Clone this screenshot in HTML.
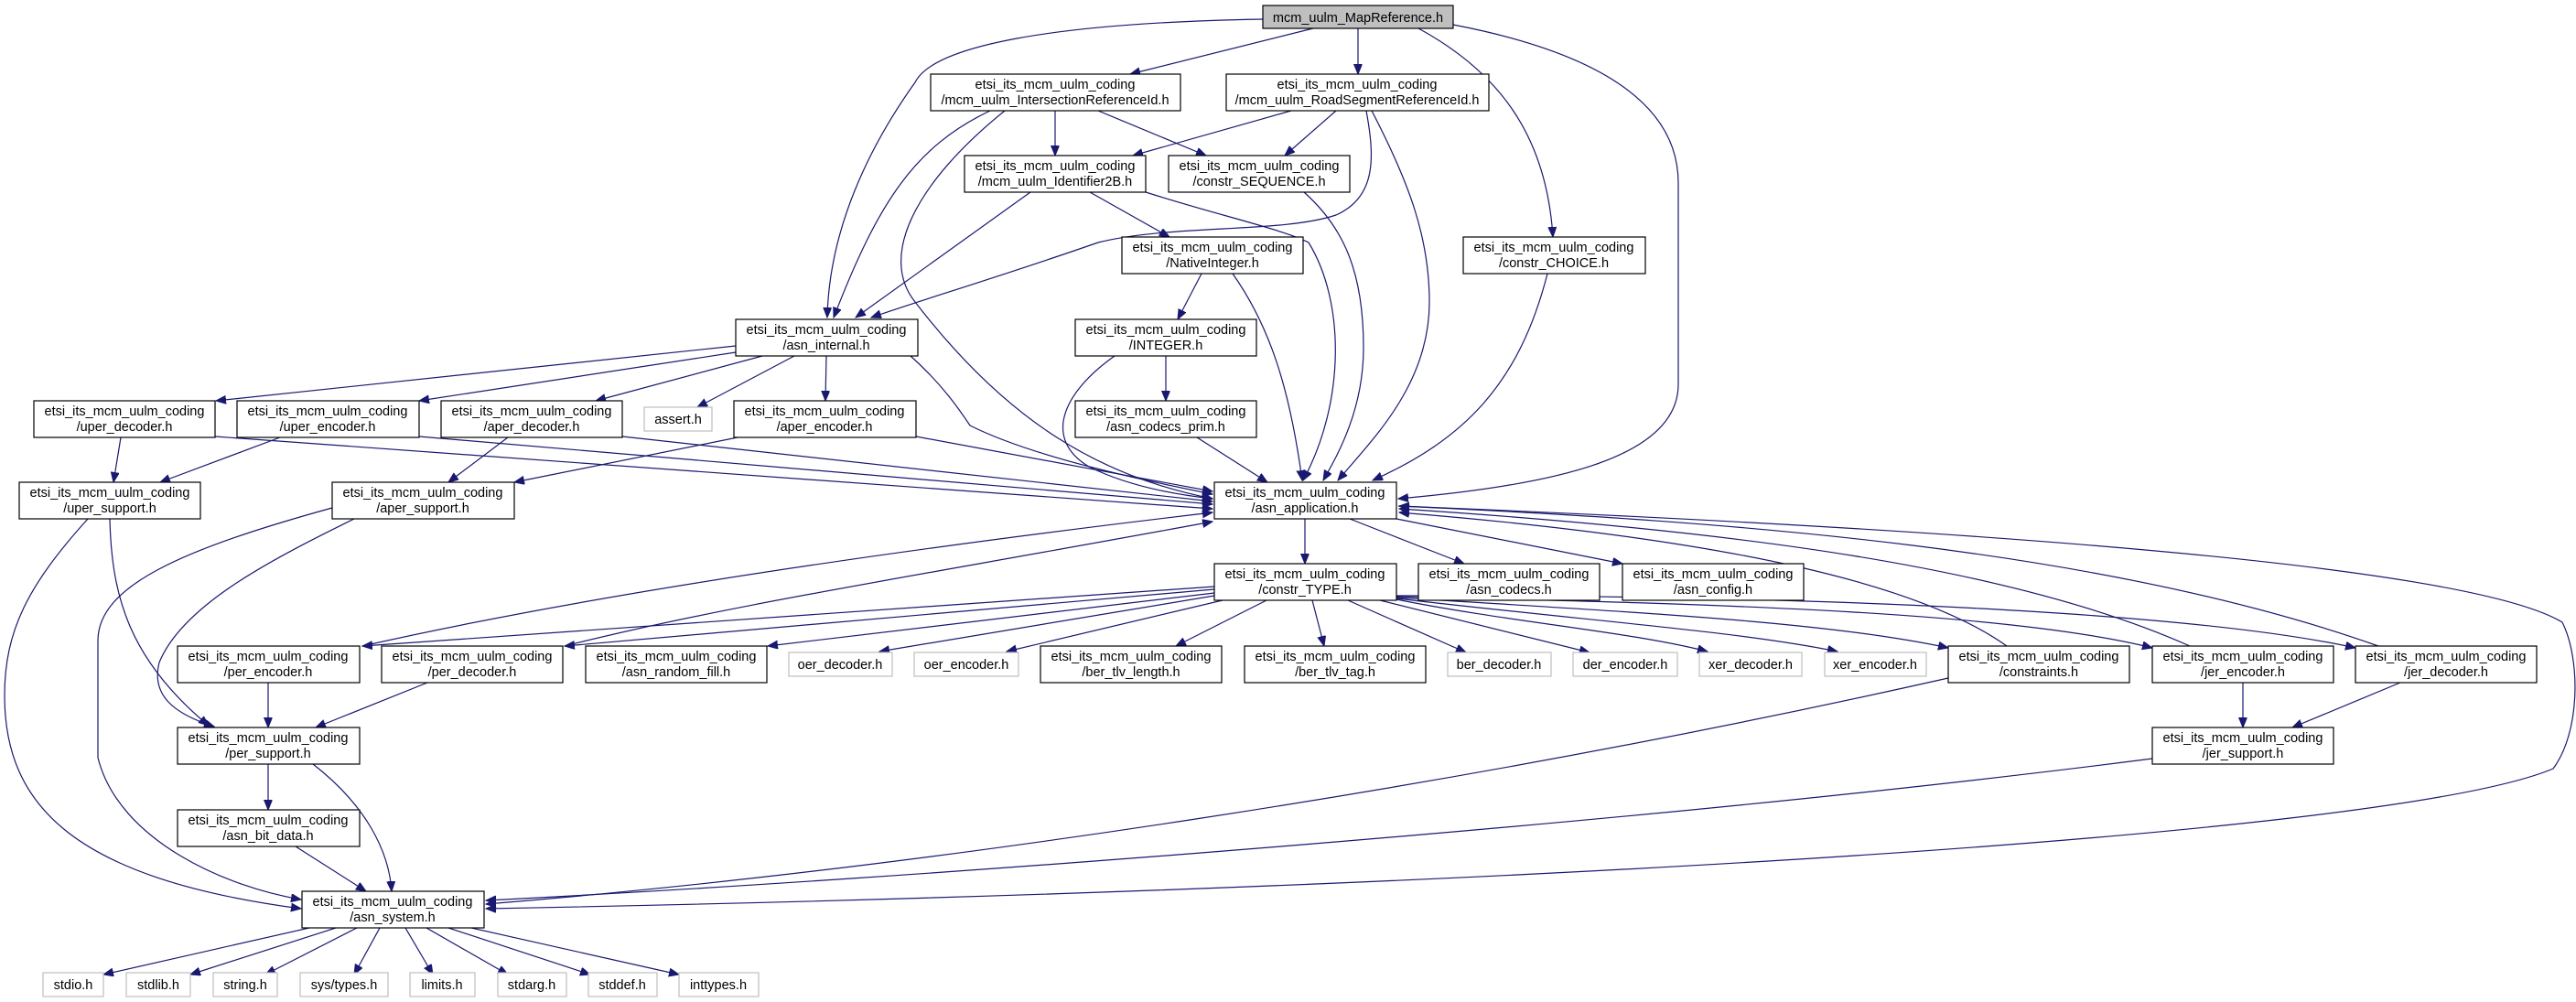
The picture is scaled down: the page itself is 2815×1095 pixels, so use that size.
<!DOCTYPE html>
<html><head><meta charset="utf-8"><style>
html,body{margin:0;padding:0;background:#fff;}
svg{display:block;}
text{font-family:"Liberation Sans",sans-serif;font-size:14.5px;fill:#000;text-anchor:middle;}
.b{fill:#fff;stroke:#000;stroke-width:1.2;}
.g{fill:#fff;stroke:#bfbfbf;stroke-width:1.2;}
.e{fill:none;stroke:#191970;stroke-width:1.2;marker-end:url(#a);}
</style></head><body>
<svg width="2815" height="1095" viewBox="0 0 2815 1095" xmlns="http://www.w3.org/2000/svg">
<defs><marker id="a" markerUnits="userSpaceOnUse" markerWidth="12" markerHeight="10" refX="11" refY="4.5" orient="auto"><path d="M0,0 L11,4.5 L0,9 z" fill="#191970" stroke="#191970"/></marker></defs>

<path class="e" d="M1380,21 C1150,25 1020,50 1000,90 C950,160 906,250 904,347"/>
<path class="e" d="M1435,31 L1235,81"/>
<path class="e" d="M1484,31 L1484,81"/>
<path class="e" d="M1550,31 C1640,80 1690,150 1697,259"/>
<path class="e" d="M1588,27 C1760,60 1834,120 1834,200 L1834,420 C1834,500 1700,530 1528,545"/>
<path class="e" d="M1153,121 L1153,170"/>
<path class="e" d="M1200,121 L1318,170"/>
<path class="e" d="M1082,121 C1000,160 960,220 911,347"/>
<path class="e" d="M1098,121 C1000,200 960,280 1000,330 C1100,460 1200,520 1325,545"/>
<path class="e" d="M1411,121 L1238,170"/>
<path class="e" d="M1460,121 L1404,170"/>
<path class="e" d="M1493,121 C1502,170 1505,215 1460,235 C1400,255 1280,245 1200,265 C1100,300 1000,330 952,347"/>
<path class="e" d="M1499,121 C1540,200 1562,260 1562,330 C1562,420 1500,480 1462,525"/>
<path class="e" d="M1126,210 L935,347"/>
<path class="e" d="M1191,210 L1278,259"/>
<path class="e" d="M1252,210 C1330,235 1400,250 1430,265 C1470,330 1470,440 1424,525"/>
<path class="e" d="M1425,210 C1470,250 1490,300 1490,380 C1490,450 1460,500 1446,525"/>
<path class="e" d="M1313,299 L1287,349"/>
<path class="e" d="M1347,299 C1390,360 1410,430 1423,525"/>
<path class="e" d="M1691,299 C1660,420 1600,480 1500,525"/>
<path class="e" d="M1274,389 L1274,438"/>
<path class="e" d="M1218,389 C1160,430 1140,480 1190,510 C1230,530 1280,540 1325,545"/>
<path class="e" d="M1308,478 L1385,527"/>
<path class="e" d="M804,378 L236,438"/>
<path class="e" d="M804,385 L458,438"/>
<path class="e" d="M833,389 L651,438"/>
<path class="e" d="M868,389 L762,445"/>
<path class="e" d="M903,389 L902,438"/>
<path class="e" d="M995,389 C1030,420 1050,450 1060,465 C1130,500 1250,525 1325,540"/>
<path class="e" d="M235,477 L1325,556"/>
<path class="e" d="M458,477 L1325,551"/>
<path class="e" d="M680,477 L1325,548"/>
<path class="e" d="M1001,477 L1325,537"/>
<path class="e" d="M132,478 L124,527"/>
<path class="e" d="M306,478 L175,527"/>
<path class="e" d="M555,478 L490,527"/>
<path class="e" d="M806,478 L562,527"/>
<path class="e" d="M120,567 C122,650 140,720 228,793"/>
<path class="e" d="M96,567 C30,640 5,690 5,760 C5,880 80,960 329,993"/>
<path class="e" d="M387,567 C300,610 200,660 174,724 C165,760 190,780 234,794"/>
<path class="e" d="M363,555 C200,600 107,640 107,700 L107,828 C130,920 250,970 329,983"/>
<path class="e" d="M293,746 L293,795"/>
<path class="e" d="M467,746 L345,795"/>
<path class="e" d="M293,835 L293,885"/>
<path class="e" d="M342,835 C400,880 425,930 428,974"/>
<path class="e" d="M323,925 L400,974"/>
<path class="e" d="M338,1014 L113,1065"/>
<path class="e" d="M367,1014 L208,1065"/>
<path class="e" d="M390,1014 L290,1065"/>
<path class="e" d="M415,1014 L387,1065"/>
<path class="e" d="M443,1014 L473,1065"/>
<path class="e" d="M466,1014 L555,1065"/>
<path class="e" d="M490,1014 L645,1065"/>
<path class="e" d="M515,1014 L742,1065"/>
<path class="e" d="M1426,567 L1426,616"/>
<path class="e" d="M1475,567 L1600,616"/>
<path class="e" d="M1526,567 L1773,616"/>
<path class="e" d="M1528,553 C2200,580 2700,620 2800,680 C2820,720 2820,800 2790,840 C2600,920 1500,975 531,993"/>
<path class="e" d="M396,706 C600,660 900,610 1325,560"/>
<path class="e" d="M617,706 C800,660 1000,630 1325,570"/>
<path class="e" d="M1327,641 L396,706"/>
<path class="e" d="M1327,644 L617,706"/>
<path class="e" d="M1327,648 L839,706"/>
<path class="e" d="M1327,651 L961,712"/>
<path class="e" d="M1336,656 L1100,712"/>
<path class="e" d="M1384,656 L1285,706"/>
<path class="e" d="M1434,656 L1447,706"/>
<path class="e" d="M1473,656 L1602,713"/>
<path class="e" d="M1508,656 L1737,713"/>
<path class="e" d="M1526,655 C1650,680 1780,690 1866,712"/>
<path class="e" d="M1526,654 C1750,680 1900,690 2008,712"/>
<path class="e" d="M1526,653 C1800,670 2000,680 2129,708"/>
<path class="e" d="M1526,652 C1900,660 2200,670 2352,708"/>
<path class="e" d="M1526,651 C2000,650 2400,670 2574,708"/>
<path class="e" d="M2193,706 C2100,640 1900,590 1529,560"/>
<path class="e" d="M2393,706 C2200,620 1900,580 1529,556"/>
<path class="e" d="M2599,706 C2300,600 1900,570 1529,553"/>
<path class="e" d="M2129,741 C1600,860 1000,950 531,988"/>
<path class="e" d="M2451,746 L2451,795"/>
<path class="e" d="M2623,746 L2505,795"/>
<path class="e" d="M2352,829 C1800,900 1000,960 531,984"/>

<rect x="1380" y="6" width="208" height="25" fill="#bfbfbf" stroke="#000" stroke-width="1.2"/><text x="1484" y="24">mcm_uulm_MapReference.h</text>

<rect class="b" x="1017" y="81" width="273" height="40"/><text x="1153" y="97">etsi_its_mcm_uulm_coding</text><text x="1153" y="114">/mcm_uulm_IntersectionReferenceId.h</text>
<rect class="b" x="1340" y="81" width="287" height="40"/><text x="1483" y="97">etsi_its_mcm_uulm_coding</text><text x="1483" y="114">/mcm_uulm_RoadSegmentReferenceId.h</text>
<rect class="b" x="1054" y="170" width="198" height="40"/><text x="1153" y="186">etsi_its_mcm_uulm_coding</text><text x="1153" y="203">/mcm_uulm_Identifier2B.h</text>
<rect class="b" x="1277" y="170" width="198" height="40"/><text x="1376" y="186">etsi_its_mcm_uulm_coding</text><text x="1376" y="203">/constr_SEQUENCE.h</text>
<rect class="b" x="1226" y="259" width="198" height="40"/><text x="1325" y="275">etsi_its_mcm_uulm_coding</text><text x="1325" y="292">/NativeInteger.h</text>
<rect class="b" x="1599" y="259" width="199" height="40"/><text x="1698" y="275">etsi_its_mcm_uulm_coding</text><text x="1698" y="292">/constr_CHOICE.h</text>
<rect class="b" x="804" y="349" width="199" height="40"/><text x="903" y="365">etsi_its_mcm_uulm_coding</text><text x="903" y="382">/asn_internal.h</text>
<rect class="b" x="1175" y="349" width="198" height="40"/><text x="1274" y="365">etsi_its_mcm_uulm_coding</text><text x="1274" y="382">/INTEGER.h</text>
<rect class="b" x="37" y="438" width="198" height="40"/><text x="136" y="454">etsi_its_mcm_uulm_coding</text><text x="136" y="471">/uper_decoder.h</text>
<rect class="b" x="259" y="438" width="199" height="40"/><text x="358" y="454">etsi_its_mcm_uulm_coding</text><text x="358" y="471">/uper_encoder.h</text>
<rect class="b" x="482" y="438" width="198" height="40"/><text x="581" y="454">etsi_its_mcm_uulm_coding</text><text x="581" y="471">/aper_decoder.h</text>
<rect class="g" x="704" y="445" width="74" height="26"/><text x="741" y="463">assert.h</text>
<rect class="b" x="802" y="438" width="199" height="40"/><text x="901" y="454">etsi_its_mcm_uulm_coding</text><text x="901" y="471">/aper_encoder.h</text>
<rect class="b" x="1175" y="438" width="198" height="40"/><text x="1274" y="454">etsi_its_mcm_uulm_coding</text><text x="1274" y="471">/asn_codecs_prim.h</text>
<rect class="b" x="21" y="527" width="198" height="40"/><text x="120" y="543">etsi_its_mcm_uulm_coding</text><text x="120" y="560">/uper_support.h</text>
<rect class="b" x="363" y="527" width="199" height="40"/><text x="462" y="543">etsi_its_mcm_uulm_coding</text><text x="462" y="560">/aper_support.h</text>
<rect class="b" x="1327" y="527" width="199" height="40"/><text x="1426" y="543">etsi_its_mcm_uulm_coding</text><text x="1426" y="560">/asn_application.h</text>
<rect class="b" x="1327" y="616" width="199" height="40"/><text x="1426" y="632">etsi_its_mcm_uulm_coding</text><text x="1426" y="649">/constr_TYPE.h</text>
<rect class="b" x="1550" y="616" width="198" height="40"/><text x="1649" y="632">etsi_its_mcm_uulm_coding</text><text x="1649" y="649">/asn_codecs.h</text>
<rect class="b" x="1773" y="616" width="198" height="40"/><text x="1872" y="632">etsi_its_mcm_uulm_coding</text><text x="1872" y="649">/asn_config.h</text>
<rect class="b" x="194" y="706" width="199" height="40"/><text x="293" y="722">etsi_its_mcm_uulm_coding</text><text x="293" y="739">/per_encoder.h</text>
<rect class="b" x="417" y="706" width="198" height="40"/><text x="516" y="722">etsi_its_mcm_uulm_coding</text><text x="516" y="739">/per_decoder.h</text>
<rect class="b" x="640" y="706" width="198" height="40"/><text x="739" y="722">etsi_its_mcm_uulm_coding</text><text x="739" y="739">/asn_random_fill.h</text>
<rect class="g" x="862" y="713" width="113" height="26"/><text x="918" y="731">oer_decoder.h</text>
<rect class="g" x="999" y="713" width="114" height="26"/><text x="1056" y="731">oer_encoder.h</text>
<rect class="b" x="1137" y="706" width="198" height="40"/><text x="1236" y="722">etsi_its_mcm_uulm_coding</text><text x="1236" y="739">/ber_tlv_length.h</text>
<rect class="b" x="1360" y="706" width="198" height="40"/><text x="1459" y="722">etsi_its_mcm_uulm_coding</text><text x="1459" y="739">/ber_tlv_tag.h</text>
<rect class="g" x="1582" y="713" width="113" height="26"/><text x="1638" y="731">ber_decoder.h</text>
<rect class="g" x="1719" y="713" width="114" height="26"/><text x="1776" y="731">der_encoder.h</text>
<rect class="g" x="1857" y="713" width="112" height="26"/><text x="1913" y="731">xer_decoder.h</text>
<rect class="g" x="1994" y="713" width="111" height="26"/><text x="2049" y="731">xer_encoder.h</text>
<rect class="b" x="2129" y="706" width="198" height="40"/><text x="2228" y="722">etsi_its_mcm_uulm_coding</text><text x="2228" y="739">/constraints.h</text>
<rect class="b" x="2352" y="706" width="198" height="40"/><text x="2451" y="722">etsi_its_mcm_uulm_coding</text><text x="2451" y="739">/jer_encoder.h</text>
<rect class="b" x="2574" y="706" width="198" height="40"/><text x="2673" y="722">etsi_its_mcm_uulm_coding</text><text x="2673" y="739">/jer_decoder.h</text>
<rect class="b" x="194" y="795" width="199" height="40"/><text x="293" y="811">etsi_its_mcm_uulm_coding</text><text x="293" y="828">/per_support.h</text>
<rect class="b" x="2352" y="795" width="198" height="40"/><text x="2451" y="811">etsi_its_mcm_uulm_coding</text><text x="2451" y="828">/jer_support.h</text>
<rect class="b" x="194" y="885" width="199" height="40"/><text x="293" y="901">etsi_its_mcm_uulm_coding</text><text x="293" y="918">/asn_bit_data.h</text>
<rect class="b" x="330" y="974" width="199" height="40"/><text x="429" y="990">etsi_its_mcm_uulm_coding</text><text x="429" y="1007">/asn_system.h</text>
<rect class="g" x="47" y="1063" width="66" height="26"/><text x="80" y="1081">stdio.h</text>
<rect class="g" x="138" y="1063" width="70" height="26"/><text x="173" y="1081">stdlib.h</text>
<rect class="g" x="233" y="1063" width="70" height="26"/><text x="268" y="1081">string.h</text>
<rect class="g" x="328" y="1063" width="96" height="26"/><text x="376" y="1081">sys/types.h</text>
<rect class="g" x="448" y="1063" width="71" height="26"/><text x="483" y="1081">limits.h</text>
<rect class="g" x="544" y="1063" width="75" height="26"/><text x="581" y="1081">stdarg.h</text>
<rect class="g" x="643" y="1063" width="75" height="26"/><text x="680" y="1081">stddef.h</text>
<rect class="g" x="742" y="1063" width="87" height="26"/><text x="785" y="1081">inttypes.h</text>
</svg>
</body></html>
